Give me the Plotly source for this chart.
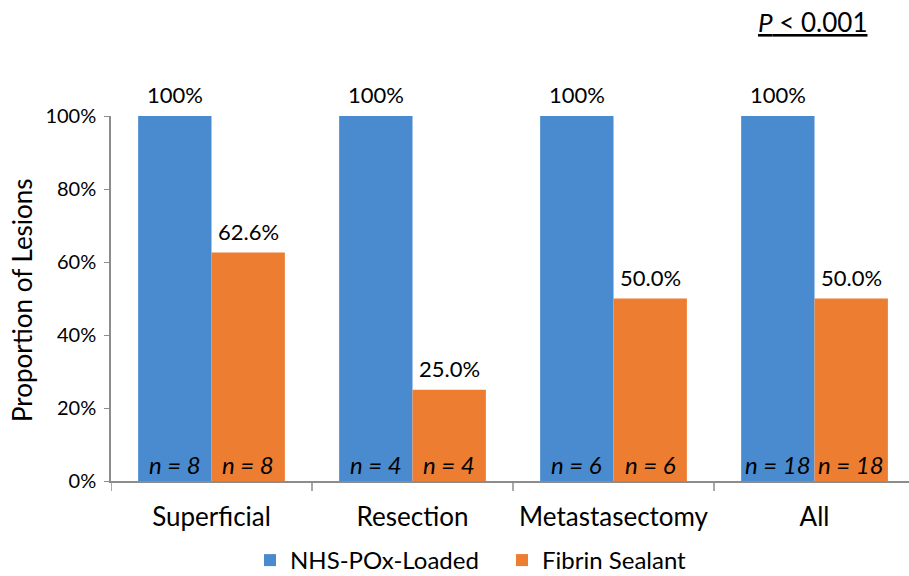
import plotly.graph_objects as go

categories = ["Superficial", "Resection", "Metastasectomy", "All"]
nhs_values = [1.00, 1.00, 1.00, 1.00]
fibrin_values = [0.626, 0.25, 0.50, 0.50]
nhs_labels = ["100%", "100%", "100%", "100%"]
fibrin_labels = ["62.6%", "25.0%", "50.0%", "50.0%"]
nhs_n = [8, 4, 6, 18]
fibrin_n = [8, 4, 6, 18]
series_names = ["NHS-POx-Loaded", "Fibrin Sealant"]
y_ticks = [0, 0.2, 0.4, 0.6, 0.8, 1.0]
y_tick_labels = ["0%", "20%", "40%", "60%", "80%", "100%"]

FONT = "Lato, Carlito, Calibri, sans-serif"
BLUE = "#4A8BCF"
ORANGE = "#ED7D31"
AXIS = "#8c8c8c"

W, H = 909, 576
ml, mr, mt, mb = 111, 0, 116, 95
pw, ph = W - ml - mr, H - mt - mb

bargap = 0.27
half = (1 - bargap) / 4
xs = list(range(len(categories)))

fig = go.Figure()
fig.add_trace(go.Bar(x=xs, y=nhs_values, name=series_names[0],
                     marker=dict(color=BLUE, line=dict(width=0))))
fig.add_trace(go.Bar(x=xs, y=fibrin_values, name=series_names[1],
                     marker=dict(color=ORANGE, line=dict(width=0))))

for i in xs:
    for off, v, lab, n in ((-half, nhs_values[i], nhs_labels[i], nhs_n[i]),
                           (half, fibrin_values[i], fibrin_labels[i], fibrin_n[i])):
        fig.add_annotation(x=i + off, y=v, xref="x", yref="y", yanchor="bottom", yshift=6,
                           text=lab, showarrow=False,
                           font=dict(size=22, color="black", family=FONT))
        fig.add_annotation(x=i + off, y=0, xref="x", yref="y", yanchor="bottom", yshift=0,
                           text=f"<i>n = {n}</i>", showarrow=False,
                           font=dict(size=24, color="black", family=FONT))

fig.add_annotation(
    x=(812 - ml) / pw, y=((H - 22) - mb) / ph, xref="paper", yref="paper",
    xanchor="center", yanchor="middle",
    text="<u><i>P</i> &lt; 0.001</u>", showarrow=False,
    font=dict(size=26, color="black", family=FONT),
)
fig.add_annotation(
    x=(22 - ml) / pw, y=((H - 300) - mb) / ph, xref="paper", yref="paper",
    xanchor="center", yanchor="middle", textangle=-90,
    text="Proportion of Lesions", showarrow=False,
    font=dict(size=26, color="black", family=FONT),
)

legend_top_px = 538
fig.update_layout(
    width=W, height=H,
    margin=dict(l=ml, r=mr, t=mt, b=mb, pad=0, autoexpand=False),
    paper_bgcolor="white", plot_bgcolor="white",
    barmode="group", bargap=bargap, bargroupgap=0,
    font=dict(family=FONT, color="black"),
    showlegend=True,
    legend=dict(orientation="h", x=(250 - ml) / pw, xanchor="left",
                y=-(legend_top_px - (H - mb)) / ph, yanchor="top",
                font=dict(size=24, family=FONT), itemwidth=30,
                entrywidth=207, entrywidthmode="pixels",
                traceorder="normal"),
    xaxis=dict(
        tickmode="array", tickvals=xs, ticktext=categories,
        range=[-0.5, 3.47], showline=True, linecolor=AXIS, linewidth=1.5,
        ticks="", tickfont=dict(size=26, family=FONT), ticklabelstandoff=12,
        showgrid=False, zeroline=False, automargin=False,
    ),
    yaxis=dict(
        range=[0, 1], tickvals=y_ticks, ticktext=y_tick_labels,
        showline=True, linecolor=AXIS, linewidth=1.5,
        ticks="outside", ticklen=5, tickcolor=AXIS,
        tickfont=dict(size=20, family=FONT), showgrid=False, zeroline=False,
        automargin=False, ticklabelstandoff=4,
    ),
)

for b in [-0.5, 0.5, 1.5, 2.5, 3.5]:
    fig.add_shape(type="line", xref="x", yref="paper", x0=b, x1=b, y0=0, y1=-10 / ph,
                  line=dict(color=AXIS, width=1.5))

fig.write_html("out.html", config={"displayModeBar": False},
               post_script="document.body.style.margin='0px';document.body.style.overflow='hidden';")
